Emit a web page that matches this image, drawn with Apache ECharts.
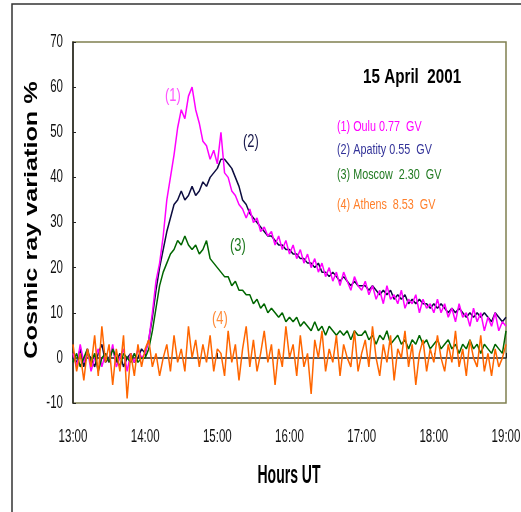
<!DOCTYPE html>
<html>
<head>
<meta charset="utf-8">
<script src="https://cdn.jsdelivr.net/npm/echarts@6/dist/echarts.min.js"></script>
<style>
  html, body { margin: 0; padding: 0; background: #fff; }
  #chart { width: 521px; height: 512px; }
</style>
</head>
<body>
<div id="chart"></div>
<script>
// readings every 3 minutes, 13:00 -> 19:00 UT
var oulu = [1, -2, 3, -1, 2, -3, 0, 2, -2, 1, -1, 3, -2, 0, 2, -3, 1, -1, 2, 0, 1,
  4, 10, 17, 21, 27, 35, 40, 45, 51, 55, 53, 58, 60, 55, 52, 48, 47, 44, 46, 43,
  50, 41, 40, 37, 36, 34, 33, 31, 33, 30, 31, 28, 29, 27, 28, 25, 27, 24, 26, 23,
  25, 22, 24, 21, 23, 20, 22, 19, 21, 18, 20, 17, 19, 16, 19, 17, 15, 18, 16, 15,
  17, 14, 16, 13, 15, 12, 16, 13, 14, 12, 15, 11, 13, 12, 14, 10, 13, 11, 12, 10,
  13, 10, 12, 9, 11, 8, 12, 9, 10, 7, 11, 8, 10, 6, 9, 7, 10, 6, 8, 7]
var apatity = [0, -1, 2, -2, 1, 0, -2, 1, 3, -1, 0, 2, -1, 1, -2, 0, 1, -1, 0, 2, 1,
  4, 9, 15, 20, 24, 28, 31, 34, 35, 37, 35, 36, 38, 36, 37, 39, 38, 40, 41, 42,
  44, 44, 43, 42, 40, 38, 35, 34, 32, 31, 30, 29, 28, 27, 27, 26, 25, 25, 24, 24,
  23, 23, 22, 22, 21, 21, 20, 21, 19, 19, 18, 19, 18, 17, 18, 17, 16, 17, 16, 16,
  16, 15, 16, 15, 14, 15, 14, 15, 13, 14, 13, 14, 12, 13, 12, 13, 12, 12, 11, 12,
  11, 12, 11, 10, 11, 10, 11, 10, 9, 10, 9, 10, 9, 10, 9, 8, 10, 9, 8, 9]
var moscow = [-1, 1, -2, 0, 2, -1, 1, -3, 0, 1, -1, 2, 0, -2, 1, 0, -1, 1, -1, 0, 0,
  2, 6, 11, 16, 19, 21, 23, 24, 26, 25, 27, 25, 24, 25, 23, 24, 26, 22, 21, 20,
  19, 18, 18, 16, 17, 15, 15, 14, 14, 12, 13, 11, 12, 10, 11, 10, 9, 10, 8, 9,
  8, 9, 7, 8, 7, 6, 8, 6, 7, 5, 7, 6, 5, 6, 5, 6, 4, 6, 5, 5,
  6, 4, 5, 3, 5, 4, 6, 3, 4, 5, 3, 4, 2, 4, 3, 5, 3, 4, 2, 3,
  4, 2, 3, 4, 2, 3, 1, 3, 2, 4, 2, 3, 1, 3, 2, 1, 3, 2, 1, 6]
var athens = [3, -3, 1, -5, 2, -2, 5, -4, 7, -1, 3, -6, 2, -3, 5, -9, 1, -4, 3, -2, 2,
  4, -2, 1, -4, 0, 3, -3, 5, -1, 2, -3, 7, 0, 4, -2, 3, -1, 5, -3, 2,
  1, -4, 6, -1, 3, -5, 2, 7, -2, 4, -3, 1, 6, -1, 3, -6, 2, -2, 7, 0,
  3, -4, 5, -2, 1, -8, 4, 0, 6, -3, 2, -1, 5, -4, 3, 0, -2, 6, -3, 1,
  4, -2, 7, 0, -4, 3, -1, 5, -5, 2, 0, 6, -2, 3, -6, 1, 4, -3, 2, -1,
  5, 0, -3, 3, -1, 6, -2, 2, -4, 4, 0, -2, 5, -3, 1, -4, 2, -2, 0, 3]
var hourTicks = ['13:00', '14:00', '15:00', '16:00', '17:00', '18:00', '19:00']
var yTicks = [-10, 0, 10, 20, 30, 40, 50, 60, 70]
var stepMin = 3

var chart = echarts.init(document.getElementById('chart'))

function pairs(arr) {
    return arr.map(function (v, i) { return [i * stepMin, v] })
}

function lineSeries(name, arr, color) {
    return {
        name: name,
        type: 'line',
        data: pairs(arr),
        symbol: 'none',
        animation: false,
        lineStyle: { color: color, width: 1.5 },
    }
}

var sans = '"Liberation Sans", Arial, sans-serif'

// the original uses a narrow font, so squeeze the text sideways
function note(x, y, text, size, color, sx, bold, align, vAlign) {
    return {
        type: 'text', x: x, y: y, scaleX: sx, silent: true,
        style: {
            text: text, font: (bold ? 'bold ' : '') + size + 'px ' + sans, fill: color,
            align: align || 'left', verticalAlign: vAlign || 'top',
        },
    }
}

var graphics = [
    { type: 'rect', silent: true, shape: { x: 12, y: 4, width: 700, height: 700 },
      style: { fill: null, stroke: '#333', lineWidth: 1.5 } },
    note(363, 67, '15 April  2001', 21, '#000', 0.725, true),
    note(337, 119, '(1) Oulu 0.77  GV', 15, '#ff00ff', 0.72),
    note(337, 142, '(2) Apatity 0.55  GV', 15, '#333399', 0.72),
    note(337, 167, '(3) Moscow  2.30  GV', 15, '#217a21', 0.72),
    note(337, 197, '(4) Athens  8.53  GV', 15, '#ff7f2a', 0.72),
    note(165, 86, '(1)', 19, '#ff55ff', 0.68),
    note(243, 132, '(2)', 19, '#1a1a4d', 0.68),
    note(230, 236, '(3)', 19, '#217a21', 0.68),
    note(212, 309, '(4)', 19, '#ff8c3a', 0.68),
    note(289, 476, 'Hours UT', 25, '#000', 0.56, true, 'center', 'middle'),
    { type: 'text', x: 32, y: 220, rotation: Math.PI / 2, scaleX: 1.4, silent: true,
      style: { text: 'Cosmic ray variation %', font: 'bold 18px ' + sans, fill: '#000',
        align: 'center', verticalAlign: 'middle' } },
]

var option = {
    backgroundColor: '#fff',
    grid: {
        left: 73, right: 15, top: 42, bottom: 109,
        show: true,
        borderColor: '#808050',
        borderWidth: 1.5,
    },
    xAxis: {
        type: 'value',
        min: 0, max: 360, interval: 60,
        axisLine: { lineStyle: { color: '#222', width: 1.5 } },
        axisTick: { inside: true, length: 5, lineStyle: { color: '#222' } },
        splitLine: { show: false },
        axisLabel: { show: false },
    },
    yAxis: {
        type: 'value',
        min: -10, max: 70, interval: 10,
        axisLine: { show: true, lineStyle: { color: '#222', width: 1.5 } },
        axisTick: { show: true, inside: true, length: 3, lineStyle: { color: '#222' } },
        splitLine: { show: false },
        axisLabel: { show: false },
    },
    graphic: graphics,
    series: [
        lineSeries('Apatity', apatity, '#0d0d40'),
        lineSeries('Oulu', oulu, '#ff00ff'),
        lineSeries('Moscow', moscow, '#006600'),
        lineSeries('Athens', athens, '#ff6600'),
    ],
}

chart.setOption(option)

// tick labels placed through the axes, in the squeezed font
var tickLabels = []
hourTicks.forEach(function (t, i) {
    var p = chart.convertToPixel({ gridIndex: 0 }, [i * 60, -10])
    tickLabels.push(note(p[0], p[1] + 34, t, 18, '#111', 0.64, false, 'center', 'middle'))
})
yTicks.forEach(function (v) {
    var p = chart.convertToPixel({ gridIndex: 0 }, [0, v])
    tickLabels.push(note(p[0] - 10, p[1], String(v), 18, '#111', 0.64, false, 'right', 'middle'))
})
chart.setOption({ graphic: graphics.concat(tickLabels) })
</script>
</body>
</html>
